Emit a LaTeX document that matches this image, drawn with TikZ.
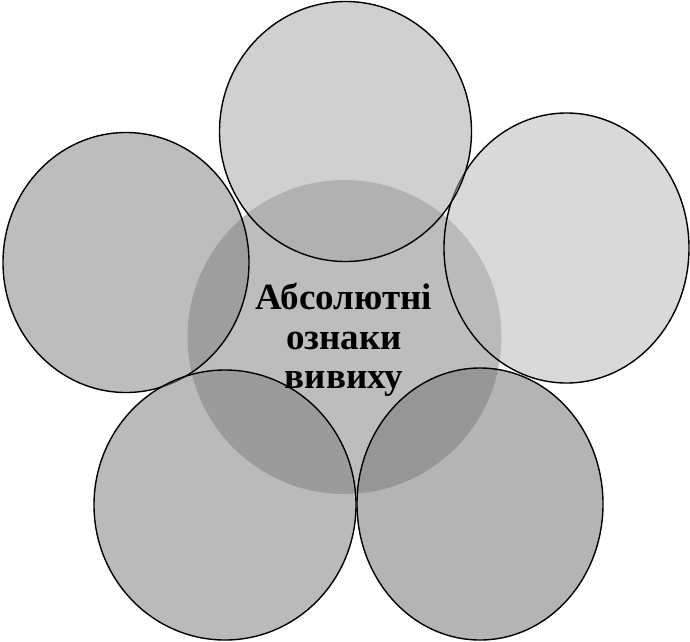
\documentclass[tikz,border=0pt]{standalone}
\usepackage{fontspec}
\setmainfont{Liberation Serif}
\begin{document}
\begin{tikzpicture}[x=1pt,y=-1pt,
  petal/.style={draw=black, line width=1.4pt, fill opacity=0.54, draw opacity=1},
  label/.style={font=\bfseries\fontsize{37}{39.5}\selectfont, align=center, inner sep=0pt}]
\useasboundingbox (0,0) rectangle (690,641);
% central circle
\fill[black!26] (344.5,337) ellipse [x radius=157, y radius=157];
% petals
\draw[petal, fill=black!48] (126,262.5) ellipse [x radius=123, y radius=130];
\draw[petal, fill=black!50] (225,505) ellipse [x radius=131, y radius=135];
\draw[petal, fill=black!54] (480,504) ellipse [x radius=123, y radius=136];
\draw[petal, fill=black!28] (566.5,248) ellipse [x radius=122.5, y radius=135];
\draw[petal, fill=black!34] (345.5,131.5) ellipse [x radius=126, y radius=130];
% label
\node[label] (t) at (344,340) {Абсолютні\\ознаки\\вивиху};
\end{tikzpicture}
\end{document}
